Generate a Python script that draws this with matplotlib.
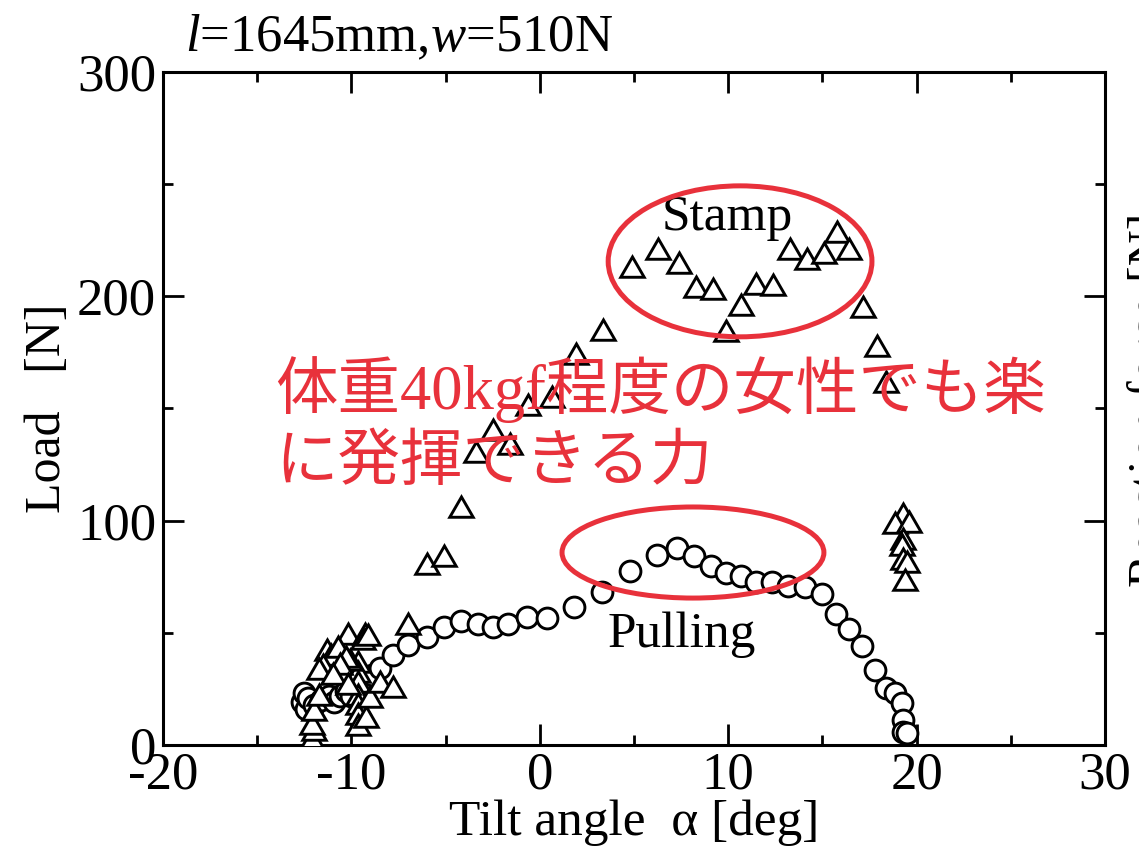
import matplotlib
matplotlib.use("Agg")
import matplotlib.pyplot as plt
from matplotlib.patches import Ellipse
from matplotlib.ticker import MultipleLocator

plt.rcParams['font.family'] = ['Liberation Serif', 'DejaVu Serif']
plt.rcParams['axes.unicode_minus'] = False
plt.rcParams['mathtext.fontset'] = 'custom'
plt.rcParams['mathtext.rm'] = 'Liberation Serif'
plt.rcParams['mathtext.it'] = 'Liberation Serif:italic'

# ---- data: Pulling (circles) ----
pull_x = [-12.6, -12.5, -12.4, -12.3, -12.0, -11.6, -11.2, -10.9, -10.6, -10.3, -10.0,
          -9.6, -9.2, -8.9, -8.5, -7.8, -7.0, -6.0, -5.1, -4.2, -3.3, -2.5, -1.7, -0.7,
          0.4, 1.8, 3.3, 4.8, 6.2, 7.3, 8.2, 9.1, 9.9, 10.7, 11.5, 12.3, 13.2, 14.1,
          15.0, 15.7, 16.4, 17.1, 17.8, 18.4, 18.85, 19.2, 19.3, 19.3, 19.5]
pull_y = [19, 23, 16, 21, 18, 20, 22, 19, 22, 24, 22,
          26, 29, 31, 34.3, 40.1, 44.6, 48.1, 52.6, 55.3, 53.9, 52.6, 53.9, 57.1,
          56.6, 61.5, 68.2, 77.6, 84.7, 87.6, 84.3, 79.8, 76.7, 75.3, 72.7, 72.7, 70.9, 70.4,
          67.3, 58.4, 51.7, 44.1, 33.4, 25.4, 23.2, 18.7, 11.1, 5.8, 5.3]

# ---- data: Stamp (triangles) ----
stamp_x = [-12.1, -12.0, -12.1, -12.0, -11.7, -11.3, -11.1, -11.5, -11.7, -10.2, -10.7,
           -9.3, -9.4, -9.1, -9.65, -9.65, -9.65, -9.65, -9.65, -9.65, -9.65, -9.2,
           -10.1, -10.3, -10.6, -11.0, -10.2, -9.0, -8.5, -7.8, -7.0,
           -6.0, -5.1, -4.2, -3.4, -2.5, -1.6, -0.6, 0.65, 1.9, 3.35, 4.9, 6.3, 7.4,
           8.3, 9.2, 9.9, 10.7, 11.5, 12.4, 13.3, 14.2, 15.1, 15.8, 16.4, 17.15, 17.9, 18.4,
           19.3, 18.85, 19.6, 19.3, 19.2, 19.3, 19.5, 19.4]
stamp_y = [1.3, 5.3, 8.0, 14.3, 21.0, 41.0, 38.8, 34.3, 32.5, 48.1, 42.4,
           48.1, 45.9, 47.7, 35.7, 31.2, 26.7, 21.0, 16.9, 12.5, 7.6, 11.1,
           36.6, 37.9, 34.8, 30.3, 25.9, 20.1, 26.7, 24.5, 52.6,
           79.4, 82.9, 104.8, 129.3, 139.1, 132.9, 150.2, 153.8, 173.0, 183.7, 211.8, 219.8, 213.6,
           202.9, 202.0, 183.2, 194.8, 204.2, 203.7, 219.8, 215.3, 218.0, 227.4, 219.8, 193.9, 176.5, 160.5,
           101.6, 97.6, 98.1, 90.5, 87.8, 81.6, 80.2, 72.2]

x_ticks = [-20, -10, 0, 10, 20, 30]
y_ticks = [0, 100, 200, 300]

title_text = r'$\mathit{l}$=1645mm,$\mathit{w}$=510N'
xlabel_text = 'Tilt angle  α [deg]'
ylabel_text = 'Load   [N]'
right_label = 'Reaction force [N]'
note_line1 = '体重40kgf程度の女性でも楽'
note_line2 = 'に発揮できる力'

RED = '#e8313b'

fig = plt.figure(figsize=(11.39, 8.57), dpi=100)
ax = fig.add_axes([163/1139, 1-745/857, (1105-163)/1139, (745-72)/857])

ax.plot(pull_x, pull_y, linestyle='none', marker='o', ms=15, mfc='white',
        mec='black', mew=2.1, zorder=3)
ax.plot(stamp_x, stamp_y, linestyle='none', marker=(3, 0, 0), ms=19.5, mfc='white',
        mec='black', mew=2.1, zorder=4)

ax.set_xlim(-20, 30)
ax.set_ylim(0, 300)
ax.set_xticks(x_ticks)
ax.set_yticks(y_ticks)
ax.xaxis.set_minor_locator(MultipleLocator(5))
ax.yaxis.set_minor_locator(MultipleLocator(50))
ax.tick_params(which='both', direction='in', top=True, right=True, width=2.0,
               labelsize=38, pad=5)
ax.tick_params(which='major', length=15)
ax.tick_params(which='minor', length=7.5)
for s in ax.spines.values():
    s.set_linewidth(2.2)

ax.set_xlabel(xlabel_text, fontsize=37, labelpad=0)
ax.set_ylabel(ylabel_text, fontsize=36, labelpad=4)

fig.text(185/1139, 1-38/857, title_text, fontsize=38, ha='left', va='center')
fig.text(1128/1139, 1-400/857, right_label, fontsize=36, rotation=90,
         ha='left', va='center')

ax.text(9.94, 235, 'Stamp', fontsize=37, ha='center', va='center', zorder=6)
ax.text(7.55, 49, 'Pulling', fontsize=37, ha='center', va='center', zorder=6)

ax.add_patch(Ellipse((10.63, 215.6), 14.0, 67.3, fill=False, ec=RED, lw=3.6, zorder=7))
ax.add_patch(Ellipse((8.13, 85.8), 13.9, 40.6, fill=False, ec=RED, lw=3.6, zorder=7))

jp = ['Liberation Serif', 'Noto Sans CJK JP']
ax.text(-14.05, 158.3, note_line1, fontsize=45, color=RED, family=jp,
        ha='left', va='center', zorder=8)
ax.text(-14.05, 124.8, note_line2, fontsize=45, color=RED, family=jp,
        ha='left', va='center', zorder=8)

fig.savefig('out.png', dpi=100)
